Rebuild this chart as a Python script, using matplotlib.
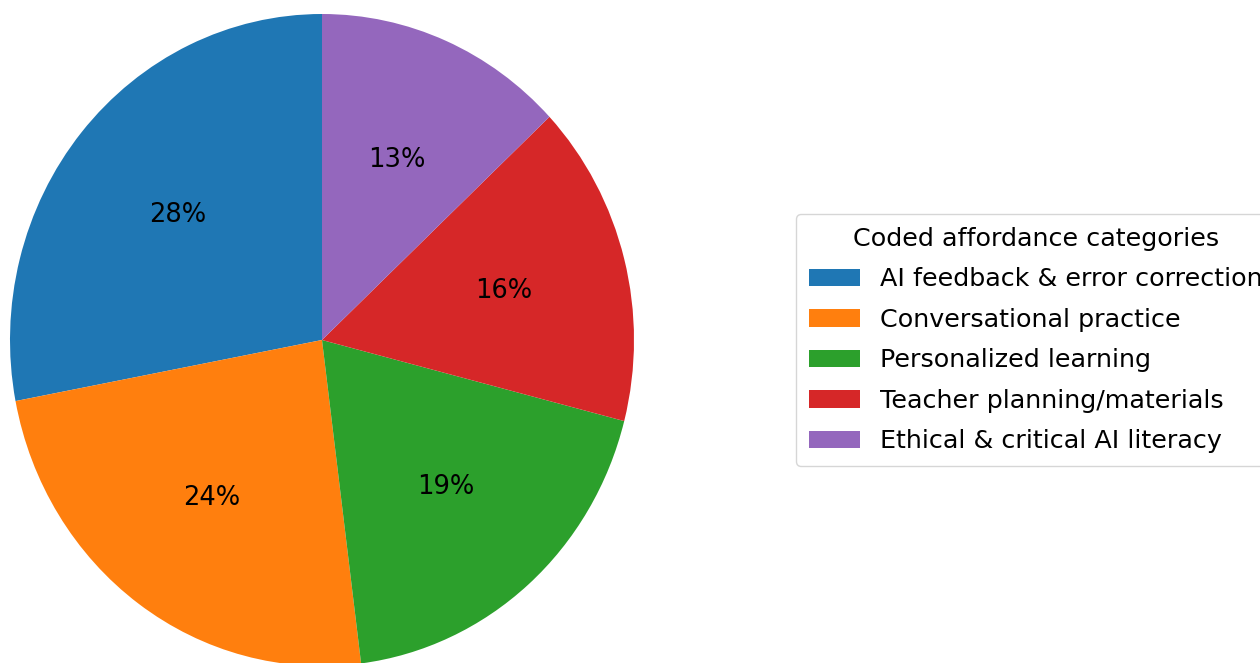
import matplotlib
matplotlib.use("Agg")
import matplotlib.pyplot as plt

categories = [
    "AI feedback & error correction",
    "Conversational practice",
    "Personalized learning",
    "Teacher planning/materials",
    "Ethical & critical AI literacy",
]
shares = [28, 24, 19, 16, 13]
colors = ["#1f77b4", "#ff7f0e", "#2ca02c", "#d62728", "#9467bd"]

fig = plt.figure(figsize=(12.6, 6.63), dpi=100)
ax = fig.add_axes([10 / 1260, -3 / 663, 624 / 1260, 652 / 663])

wedges, texts, autotexts = ax.pie(
    shares,
    colors=colors,
    startangle=90,
    autopct="%1.0f%%",
    pctdistance=0.6,
    textprops={"fontsize": 18.5},
)
ax.set_aspect("auto")
ax.set_xlim(-1, 1)
ax.set_ylim(-1, 1)

fig.legend(
    wedges,
    categories,
    title="Coded affordance categories",
    loc="center left",
    bbox_to_anchor=(796 / 1260, 0.487),
    borderaxespad=0,
    fontsize=18.3,
    title_fontsize=18.3,
    labelspacing=0.65,
    borderpad=0.5,
)

fig.savefig("out.png", dpi=100)
